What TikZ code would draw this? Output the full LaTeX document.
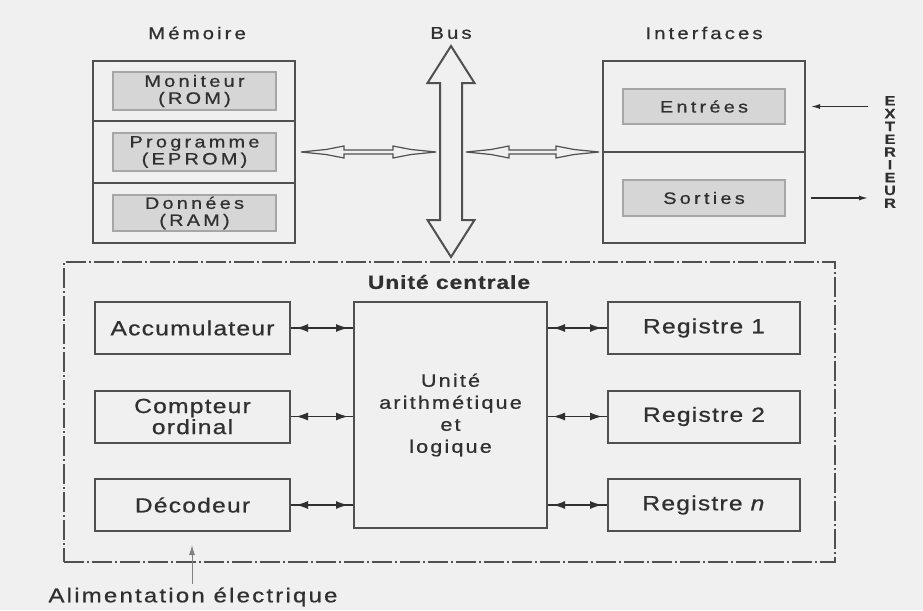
\documentclass[tikz,border=0pt]{standalone}
\usepackage{fontspec}
\setmainfont{Liberation Sans}[FakeStretch=1.2, FakeBold=0.7]
\usepackage{tikz}
\usetikzlibrary{arrows.meta,positioning,calc}
\definecolor{bgc}{HTML}{F0F0F0}
\definecolor{ink}{HTML}{303030}
\definecolor{edge}{HTML}{505050}
\definecolor{cell}{HTML}{D6D6D6}

\begin{document}
\begin{tikzpicture}[x=1pt, y=-1pt,
  every node/.style={text=ink},
  lbl/.style={font=\fontsize{20.5}{21}\selectfont\addfontfeatures{LetterSpace=6}},
  ttl/.style={font=\fontsize{17}{18}\selectfont\addfontfeatures{LetterSpace=18}},
  cellfont/.style={font=\fontsize{16.5}{17}\selectfont\addfontfeatures{LetterSpace=20}},
  memframe/.style={draw=edge, line width=2pt},
  box/.style={memframe, lbl, align=center, minimum height=52pt, inner sep=0pt},
  cellbox/.style={draw=gray!70, line width=1.2pt, fill=cell, cellfont, align=center,
                  inner sep=0pt, minimum width=163pt},
  link/.style={draw=ink, line width=1.2pt},
  dbl/.style={{Latex[length=12pt,width=8pt]}-{Latex[length=12pt,width=8pt]},
              shorten <=5pt, shorten >=5pt},
  hollow/.style={draw=edge, line width=1.5pt, fill=bgc, line join=miter},
  dashbox/.style={draw=edge, line width=2.5pt, dash pattern=on 20pt off 3pt on 2pt off 3pt},
  node distance=34.5pt]
\fill[bgc] (0,0) rectangle (923,610);
\useasboundingbox (0,0) rectangle (923,610);

% memoire
\node[ttl] (memt) at (197,33) {Mémoire};
\node[memframe, minimum width=202pt, minimum height=182pt] (mem) at (194,152) {};
\draw[edge, line width=1.5pt] (mem.west |- 0,121) -- (mem.east |- 0,121);
\draw[edge, line width=1.5pt] (mem.west |- 0,183) -- (mem.east |- 0,183);
\node[cellbox, minimum height=38pt] (mon) at (194.5,91) {Moniteur\\(ROM)};
\node[cellbox, minimum height=38pt] (prog) at (194.5,152) {Programme\\(EPROM)};
\node[cellbox, minimum height=36pt] (don) at (194.5,213) {Données\\(RAM)};

% bus
\node[ttl] (bust) at (451,33) {Bus};
\coordinate (bus) at (451,151.5);
\draw[hollow, line width=2pt] ($(bus)+(0,-105.5)$) -- ++(23.5,37) -- ++(-12.5,0) -- ++(0,137)
  -- ++(12.5,0) -- ++(-23.5,37) -- ++(-23.5,-37) -- ++(12.5,0) -- ++(0,-137) -- ++(-12.5,0) -- cycle;
\draw[hollow, line width=1.2pt] ($(mem.east)+(5,0)$) -- ++(25,-2.5) -- ++(18,-3.5) -- ++(0,4)
  -- ++(49,0) -- ++(0,-4) -- ++(18,3.5) -- ++(25,2.5) -- ++(-25,2.5) -- ++(-18,3.5) -- ++(0,-4)
  -- ++(-49,0) -- ++(0,4) -- ++(-18,-3.5) -- cycle;
\draw[hollow, line width=1.2pt] ($(bus)+(15,0.5)$) -- ++(25,-2.5) -- ++(18,-3.5) -- ++(0,4)
  -- ++(47,0) -- ++(0,-4) -- ++(18,3.5) -- ++(25,2.5) -- ++(-25,2.5) -- ++(-18,3.5) -- ++(0,-4)
  -- ++(-47,0) -- ++(0,4) -- ++(-18,-3.5) -- cycle;

% interfaces
\node[ttl] (ift) at (704,33) {Interfaces};
\node[memframe, minimum width=202pt, minimum height=182pt] (iface) at (704,152) {};
\draw[edge, line width=1.5pt] (iface.west) -- (iface.east);
\node[cellbox, minimum width=162pt, minimum height=35pt] (ent) at (704,106.5) {Entrées};
\node[cellbox, minimum width=162pt, minimum height=36pt] (sor) at (704,198) {Sorties};
\node[font=\fontsize{13.5}{12.8}\bfseries\selectfont, align=center] (ext) at (890,152)
  {E\\X\\T\\E\\R\\I\\E\\U\\R};
\coordinate (exin) at (868,106.5);
\coordinate (exout) at (868,198);
\draw[link, -{Latex[length=9pt,width=5pt]}, shorten >=5pt] (exin) -- (iface.east |- exin);
\draw[link, -{Latex[length=9pt,width=5pt]}, shorten <=5pt] (iface.east |- exout) -- (exout);

% unite centrale
\node[dashbox, minimum width=771pt, minimum height=300pt] (cu) at (449.5,412) {};
\node[font=\fontsize{19}{21}\bfseries\selectfont\addfontfeatures{LetterSpace=5}] (cut) at (449,282) {Unité centrale};
\node[box, minimum width=195pt] (acc) at (192.5,328) {Accumulateur};
\node[box, minimum width=195pt, below=of acc] (cpt) {Compteur\\ordinal};
\node[box, minimum width=195pt, below=of cpt] (dec) {Décodeur};
\node[box, minimum width=193pt, minimum height=226pt,
      font=\fontsize{18}{22}\selectfont\addfontfeatures{LetterSpace=12}] (alu) at (450.5,415)
  {Unité\\arithmétique\\et\\logique};
\node[box, minimum width=192pt] (reg1) at (704,328) {Registre 1};
\node[box, minimum width=192pt, below=of reg1] (reg2) {Registre 2};
\node[box, minimum width=192pt, below=of reg2] (regn) {Registre \textit{n}};
\foreach \a in {acc,cpt,dec} {
  \draw[link] (\a.east) -- (\a.east -| alu.west);
  \draw[link, dbl] (\a.east) -- (\a.east -| alu.west);
}
\foreach \b in {reg1,reg2,regn} {
  \draw[link] (alu.east |- \b.west) -- (\b.west);
  \draw[link, dbl] (alu.east |- \b.west) -- (\b.west);
}

% alimentation
\node[font=\fontsize{20}{22}\selectfont\addfontfeatures{LetterSpace=11}] (alim) at (193,597) {Alimentation électrique};
\coordinate (pwr) at (192,545);
\draw[gray, line width=1pt, -{Latex[length=10pt,width=6pt]}] (alim.north -| pwr) -- (pwr);
\end{tikzpicture}
\end{document}
